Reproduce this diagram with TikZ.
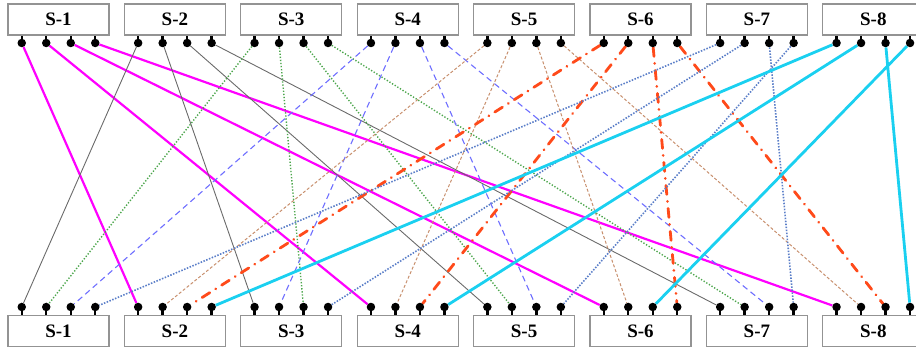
\documentclass[tikz,border=0pt]{standalone}
\usepackage{fontspec}
\setmainfont{Liberation Serif}
\usetikzlibrary{backgrounds}

\definecolor{magline}{HTML}{FF00FF}
\definecolor{gryline}{HTML}{6A6A6A}
\definecolor{grnline}{HTML}{4CA64C}
\definecolor{bluline}{HTML}{6E6EFF}
\definecolor{brnline}{HTML}{C8906E}
\definecolor{orgline}{HTML}{FF4A1A}
\definecolor{stlline}{HTML}{5A7EC8}
\definecolor{cyaline}{HTML}{1AD0F0}

\begin{document}
\begin{tikzpicture}[
  x=1pt, y=-1pt,
  font=\fontsize{19}{20}\selectfont\bfseries,
  sbox/.style={draw=gray!85, line width=1.3pt, minimum width=101pt,
               minimum height=31pt, inner sep=0pt},
  pinball/.style={circle, fill=black, minimum size=8.5pt, inner sep=0pt},
  pinstem/.style={line width=2.4pt},
  maglink/.style={magline, line width=2.2pt},
  graylink/.style={gryline, line width=0.9pt},
  greendot/.style={grnline, line width=1.4pt, dash pattern=on 1.3pt off 1.8pt},
  bluedash/.style={bluline, line width=1.1pt, dash pattern=on 6pt off 4pt},
  browndash/.style={brnline, line width=1pt, dash pattern=on 3pt off 2pt},
  orangedd/.style={orgline, line width=2.8pt, line cap=round,
                   dash pattern=on 9pt off 7pt on 0.1pt off 7pt},
  bluedot/.style={stlline, line width=1.6pt, dash pattern=on 1.5pt off 1.5pt},
  cyanlink/.style={cyaline, line width=2.8pt}
]
  \useasboundingbox (0,0) rectangle (916,352);

  % switches with their pins
  \foreach \i in {1,...,8} {
    \pgfmathsetmacro{\cx}{58.5+116.4*(\i-1)}
    \node[sbox] (t\i) at (\cx,19.5) {S-\i};
    \node[sbox] (b\i) at (\cx,331) {S-\i};
    \foreach \j/\dx in {1/-36.75,2/-12.25,3/12.25,4/36.75} {
      \pgfmathsetmacro{\px}{\cx+\dx}
      \node[pinball] (t\i-\j) at (\px,43) {};
      \node[pinball] (b\i-\j) at (\px,307) {};
      \draw[pinstem] (t\i-\j.center) -- (t\i-\j.center |- t\i.south);
      \draw[pinstem] (b\i-\j.center) -- (b\i-\j.center |- b\i.north);
    }
  }

  % links
  \begin{scope}[on background layer]
    \draw[maglink]   (t1-1) -- (b2-1) (t1-2) -- (b4-1) (t1-3) -- (b6-1) (t1-4) -- (b8-1);
    \draw[graylink]  (t2-1) -- (b1-1) (t2-2) -- (b3-1) (t2-3) -- (b5-1) (t2-4) -- (b7-1);
    \draw[greendot]  (t3-1) -- (b1-2) (t3-2) -- (b3-3) (t3-3) -- (b5-2) (t3-4) -- (b7-2);
    \draw[bluedash]  (t4-1) -- (b1-3) (t4-2) -- (b3-2) (t4-3) -- (b5-3) (t4-4) -- (b7-3);
    \draw[browndash] (t5-1) -- (b2-2) (t5-2) -- (b4-2) (t5-3) -- (b6-2) (t5-4) -- (b8-2);
    \draw[orangedd]  (t6-1) -- (b2-3) (t6-2) -- (b4-3) (t6-3) -- (b6-4) (t6-4) -- (b8-3);
    \draw[bluedot]   (t7-1) -- (b1-4) (t7-2) -- (b3-4) (t7-3) -- (b7-4) (t7-4) -- (b5-4);
    \draw[cyanlink]  (t8-1) -- (b2-4) (t8-2) -- (b4-4) (t8-3) -- (b8-4) (t8-4) -- (b6-3);
  \end{scope}
\end{tikzpicture}
\end{document}
